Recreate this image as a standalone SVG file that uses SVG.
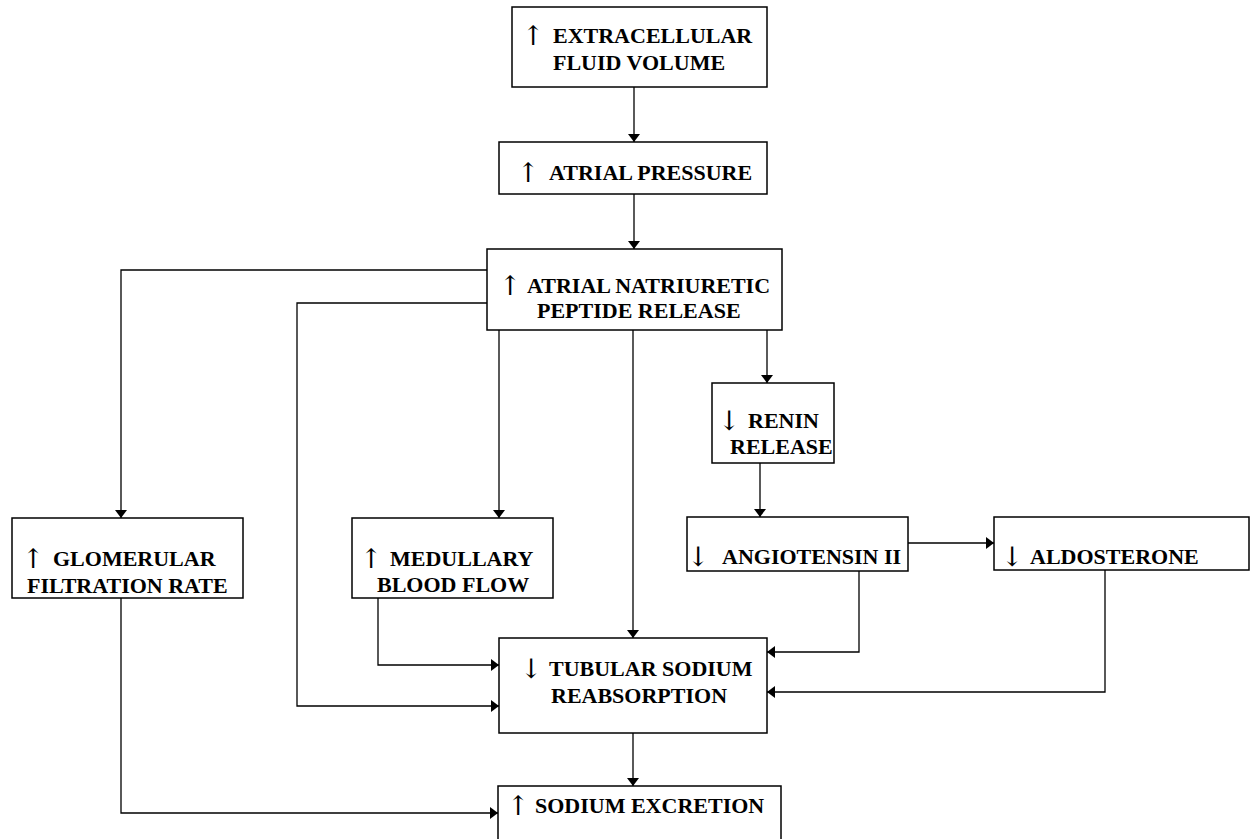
<svg xmlns="http://www.w3.org/2000/svg" width="1251" height="839" viewBox="0 0 1251 839">
<style>
.box{fill:#fff;stroke:#000;stroke-width:1.5}
.t{font-family:"Liberation Serif","Times New Roman",serif;font-weight:bold;font-size:22px;fill:#000}
.a{font-family:"DejaVu Serif","DejaVu Sans",serif;font-weight:normal;font-size:27px;fill:#000}
.c{fill:none;stroke:#000;stroke-width:1.3}
</style>
<defs>
<marker id="ah" viewBox="0 0 8 12" refX="8" refY="6" markerWidth="8" markerHeight="12" markerUnits="userSpaceOnUse" orient="auto">
<path d="M0,0 L8,6 L0,12 Z" fill="#000"/>
</marker>
</defs>
<rect width="1251" height="839" fill="#fff"/>
<g id="connectors">
<path class="c" d="M634,87 V142" marker-end="url(#ah)"/>
<path class="c" d="M634,194 V249" marker-end="url(#ah)"/>
<path class="c" d="M487,270 H121 V518" marker-end="url(#ah)"/>
<path class="c" d="M487,303 H297 V706 H499" marker-end="url(#ah)"/>
<path class="c" d="M499,330 V518" marker-end="url(#ah)"/>
<path class="c" d="M633,330 V638" marker-end="url(#ah)"/>
<path class="c" d="M767,330 V383" marker-end="url(#ah)"/>
<path class="c" d="M760,463 V517" marker-end="url(#ah)"/>
<path class="c" d="M908,543 H994" marker-end="url(#ah)"/>
<path class="c" d="M378,598 V665 H499" marker-end="url(#ah)"/>
<path class="c" d="M859,571 V652 H767" marker-end="url(#ah)"/>
<path class="c" d="M1105,570 V692 H767" marker-end="url(#ah)"/>
<path class="c" d="M633,733 V786" marker-end="url(#ah)"/>
<path class="c" d="M121,598 V813 H498" marker-end="url(#ah)"/>
</g>
<g id="ecf">
<rect class="box" x="512" y="7" width="255" height="80"/>
<text class="a" x="522" y="45">↑</text>
<text class="t" x="553" y="43">EXTRACELLULAR</text>
<text class="t" x="553" y="70">FLUID VOLUME</text>
</g>
<g id="atrial-pressure">
<rect class="box" x="499" y="142" width="268" height="52"/>
<text class="a" x="517" y="182">↑</text>
<text class="t" x="549" y="180">ATRIAL PRESSURE</text>
</g>
<g id="anp">
<rect class="box" x="487" y="249" width="295" height="81"/>
<text class="a" x="499" y="295">↑</text>
<text class="t" x="527" y="293">ATRIAL NATRIURETIC</text>
<text class="t" x="537" y="318">PEPTIDE RELEASE</text>
</g>
<g id="gfr">
<rect class="box" x="12" y="518" width="231" height="80"/>
<text class="a" x="22" y="568">↑</text>
<text class="t" x="53" y="566">GLOMERULAR</text>
<text class="t" x="27" y="593">FILTRATION RATE</text>
</g>
<g id="medullary">
<rect class="box" x="352" y="518" width="201" height="80"/>
<text class="a" x="360" y="568">↑</text>
<text class="t" x="390" y="566">MEDULLARY</text>
<text class="t" x="377" y="592">BLOOD FLOW</text>
</g>
<g id="renin">
<rect class="box" x="712" y="383" width="122" height="80"/>
<text class="a" x="718" y="430">↓</text>
<text class="t" x="748" y="428">RENIN</text>
<text class="t" x="730" y="454">RELEASE</text>
</g>
<g id="angiotensin">
<rect class="box" x="687" y="517" width="221" height="54"/>
<text class="a" x="687" y="566">↓</text>
<text class="t" x="722" y="564">ANGIOTENSIN II</text>
</g>
<g id="aldosterone">
<rect class="box" x="994" y="517" width="255" height="53"/>
<text class="a" x="1001" y="566">↓</text>
<text class="t" x="1030" y="564">ALDOSTERONE</text>
</g>
<g id="tubular">
<rect class="box" x="499" y="638" width="268" height="95"/>
<text class="a" x="520" y="678">↓</text>
<text class="t" x="549" y="676">TUBULAR SODIUM</text>
<text class="t" x="551" y="703">REABSORPTION</text>
</g>
<g id="sodium-excretion">
<rect class="box" x="498" y="786" width="283" height="60"/>
<text class="a" x="507" y="815">↑</text>
<text class="t" x="535" y="813">SODIUM EXCRETION</text>
</g>
</svg>
